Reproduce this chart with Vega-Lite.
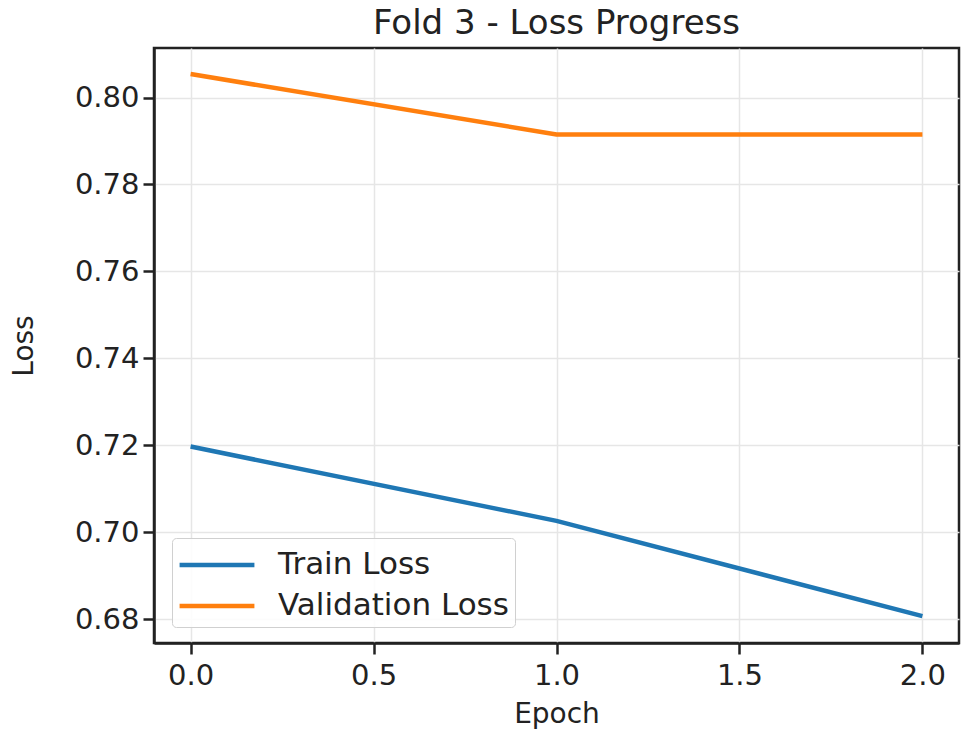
{
  "$schema": "https://vega.github.io/schema/vega-lite/v6.json",
  "width": 805,
  "height": 595,
  "autosize": {"type": "none"},
  "padding": {"left": 154, "top": 48, "right": 2, "bottom": 92},
  "background": "white",
  "title": {"text": "Fold 3 - Loss Progress", "fontSize": 34, "font": "DejaVu Sans", "fontWeight": "normal", "color": "#222222", "anchor": "middle", "offset": 7},
  "config": {
    "view": {"stroke": "#222222", "strokeWidth": 2.5},
    "font": "DejaVu Sans",
    "axis": {
      "labelFont": "DejaVu Sans", "labelFontSize": 29, "labelColor": "#222222",
      "titleFont": "DejaVu Sans", "titleFontSize": 28, "titleFontWeight": "normal", "titleColor": "#222222",
      "domainColor": "#222222", "domainWidth": 2.5,
      "tickColor": "#222222", "tickWidth": 2.5, "tickSize": 11,
      "gridColor": "#e6e6e6", "gridWidth": 1.5
    }
  },
  "data": {
    "values": [
      {"epoch": 0, "loss": 0.7197, "series": "Train Loss"},
      {"epoch": 1, "loss": 0.7026, "series": "Train Loss"},
      {"epoch": 2, "loss": 0.6807, "series": "Train Loss"},
      {"epoch": 0, "loss": 0.8054, "series": "Validation Loss"},
      {"epoch": 1, "loss": 0.7915, "series": "Validation Loss"},
      {"epoch": 2, "loss": 0.7915, "series": "Validation Loss"}
    ]
  },
  "mark": {"type": "line", "strokeWidth": 4.5},
  "encoding": {
    "x": {
      "field": "epoch", "type": "quantitative", "title": "Epoch",
      "scale": {"domain": [-0.1, 2.1], "nice": false, "zero": false},
      "axis": {"values": [0, 0.5, 1, 1.5, 2], "format": ".1f", "labelPadding": 7, "titlePadding": 10}
    },
    "y": {
      "field": "loss", "type": "quantitative", "title": "Loss",
      "scale": {"domain": [0.6745, 0.8114], "nice": false, "zero": false},
      "axis": {"values": [0.68, 0.70, 0.72, 0.74, 0.76, 0.78, 0.80], "format": ".2f", "labelPadding": 4, "titlePadding": 36}
    },
    "color": {
      "field": "series", "type": "nominal",
      "scale": {"domain": ["Train Loss", "Validation Loss"], "range": ["#1f77b4", "#ff7f0e"]},
      "legend": {
        "title": null, "orient": "none", "legendX": 18, "legendY": 490,
        "symbolType": "M-2,0H2", "symbolSize": 1400, "symbolStrokeWidth": 4.5,
        "labelFontSize": 31, "labelFont": "DejaVu Sans", "labelColor": "#222222", "labelLimit": 500,
        "fillColor": "rgba(255,255,255,0.85)", "strokeColor": "#d0d0d0", "cornerRadius": 4,
        "padding": 6, "rowPadding": 5, "labelOffset": 40, "symbolOffset": 18
      }
    }
  }
}
